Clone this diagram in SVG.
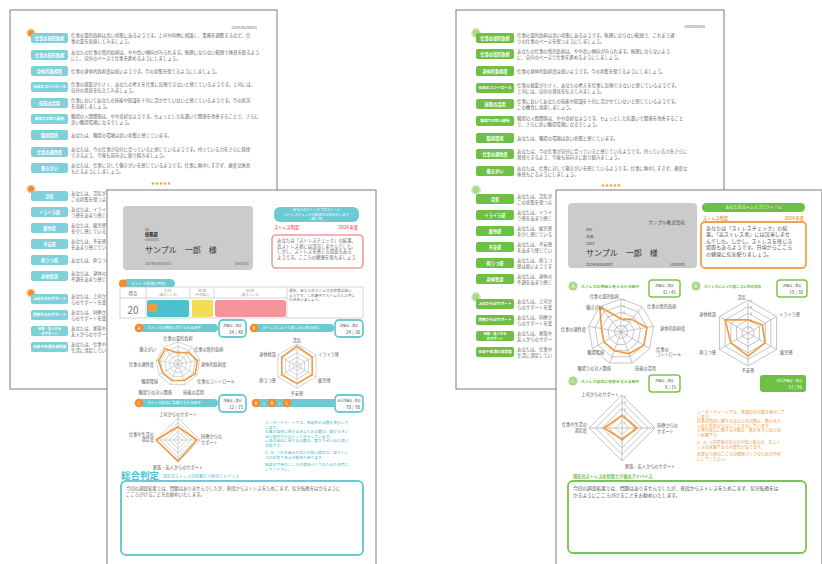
<svg xmlns="http://www.w3.org/2000/svg" width="822" height="564" viewBox="0 0 822 564">
<style>
text{font-family:"Noto Sans CJK JP","Noto Sans",sans-serif}
.pg{fill:#fff;stroke:#7d7d7d;stroke-width:1}
.bt{fill:#7fd0d8}
.bg{fill:#6dbf45}
.bl{font-size:4.2px;fill:#fff;text-anchor:middle;font-weight:bold}
.bs{font-size:3.7px;fill:#fff;text-anchor:middle;font-weight:bold}
.b2{font-size:3.3px;fill:#fff;text-anchor:middle;font-weight:bold}
.tx{font-size:4.4px;fill:#666}
.sm{font-size:3.7px;fill:#666}
.lb{font-size:4.2px;fill:#555}
.mid{text-anchor:middle}
.end{text-anchor:end}
.grid{fill:none;stroke:#b0b0b0}
.dat{fill:none;stroke:#f39a3a;stroke-linejoin:round}
.od{fill:#f58a2a;stroke:#fbbf80;stroke-width:1.5}
.gd{fill:#a9d98b;stroke:#d3ecc2;stroke-width:1.5}
.star{font-size:4px;fill:#f39a3a;text-anchor:middle}
.tl{fill:#6ccad3}
.num{font-size:3.2px;fill:#888}
</style>
<defs>
<g id="g9" class="grid">
<polygon points="0,-1 0.643,-0.766 0.985,-0.174 0.866,0.5 0.342,0.94 -0.342,0.94 -0.866,0.5 -0.985,-0.174 -0.643,-0.766"/>
<polygon points="0,-2 1.286,-1.532 1.97,-0.348 1.732,1 0.684,1.88 -0.684,1.88 -1.732,1 -1.97,-0.348 -1.286,-1.532"/>
<polygon points="0,-3 1.929,-2.298 2.954,-0.521 2.598,1.5 1.026,2.819 -1.026,2.819 -2.598,1.5 -2.954,-0.521 -1.929,-2.298"/>
<polygon points="0,-4 2.571,-3.064 3.939,-0.695 3.464,2 1.368,3.759 -1.368,3.759 -3.464,2 -3.939,-0.695 -2.571,-3.064"/>
<polygon points="0,-5 3.214,-3.83 4.924,-0.868 4.33,2.5 1.71,4.698 -1.71,4.698 -4.33,2.5 -4.924,-0.868 -3.214,-3.83"/>
<path d="M0,0V-5M0,0L3.214,-3.83M0,0L4.924,-0.868M0,0L4.33,2.5M0,0L1.71,4.698M0,0L-1.71,4.698M0,0L-4.33,2.5M0,0L-4.924,-0.868M0,0L-3.214,-3.83"/>
</g>
<g id="g6" class="grid">
<polygon points="0,-1 0.866,-0.5 0.866,0.5 0,1 -0.866,0.5 -0.866,-0.5"/>
<polygon points="0,-2 1.732,-1 1.732,1 0,2 -1.732,1 -1.732,-1"/>
<polygon points="0,-3 2.598,-1.5 2.598,1.5 0,3 -2.598,1.5 -2.598,-1.5"/>
<polygon points="0,-4 3.464,-2 3.464,2 0,4 -3.464,2 -3.464,-2"/>
<polygon points="0,-5 4.33,-2.5 4.33,2.5 0,5 -4.33,2.5 -4.33,-2.5"/>
<path d="M0,-5V5M-4.33,-2.5L4.33,2.5M-4.33,2.5L4.33,-2.5"/>
</g>
<g id="g4" class="grid">
<polygon points="0,-1 1,0 0,1 -1,0"/>
<polygon points="0,-2 2,0 0,2 -2,0"/>
<polygon points="0,-3 3,0 0,3 -3,0"/>
<polygon points="0,-4 4,0 0,4 -4,0"/>
<polygon points="0,-5 5,0 0,5 -5,0"/>
<path d="M0,-5V5M-5,0H5"/>
</g>
</defs>

<!-- Page 1 (back left, teal) -->
<g id="page1">
<rect class="pg" x="10" y="10" width="267" height="379"/>
<text x="257" y="28.5" class="sm end">2024/05/00001</text>
<circle class="od" cx="31" cy="33" r="3.6"/>
<g>
<rect class="bt" x="31" y="33" width="37" height="10" rx="2"/><text class="bl" x="49.5" y="39.5">仕事の量的負担</text>
<text class="tx" x="71" y="37.2">仕事の量的負担は高い状態にあるようです。上司や同僚に相談し、業務を調整するなど、仕</text>
<text class="tx" x="71" y="42.8">事の量を見直してみましょう。</text>
<rect class="bt" x="31" y="50" width="37" height="10" rx="2"/><text class="bl" x="49.5" y="56.5">仕事の質的負担</text>
<text class="tx" x="71" y="54.2">あなたの仕事の質的負担は、やや高い傾向がみられます。無理にならない範囲で休息を取るよう</text>
<text class="tx" x="71" y="59.8">にし、自分のペースで仕事を進めるようにしましょう。</text>
<rect class="bt" x="31" y="66" width="37" height="10" rx="2"/><text class="bl" x="49.5" y="72.5">身体的負担度</text>
<text class="tx" x="71" y="72.6">仕事の身体的負担度は低いようです。今の状態を保てるようにしましょう。</text>
<rect class="bt" x="31" y="82" width="37" height="10" rx="2"/><text class="bs" x="49.5" y="88.3">仕事のコントロール</text>
<text class="tx" x="71" y="86.2">仕事の裁量が小さく、あなたの考えを仕事に反映できないと感じているようです。上司には、</text>
<text class="tx" x="71" y="91.8">自分の意見を伝えてみましょう。</text>
<rect class="bt" x="31" y="98" width="37" height="10" rx="2"/><text class="bl" x="49.5" y="104.5">技能の活用</text>
<text class="tx" x="71" y="102.2">仕事においてあなたの技能や知識を十分に活かせていないと感じているようです。今の状況</text>
<text class="tx" x="71" y="107.8">を見直しましょう。</text>
<rect class="bt" x="31" y="114" width="37" height="10" rx="2"/><text class="bs" x="49.5" y="120.3">職場での対人関係</text>
<text class="tx" x="71" y="118.2">職場の人間関係は、やや良好なようです。ちょっとした気遣いで関係を改善することで、さらに</text>
<text class="tx" x="71" y="123.8">良い職場環境になるでしょう。</text>
<rect class="bt" x="31" y="130" width="37" height="10" rx="2"/><text class="bl" x="49.5" y="136.5">職場環境</text>
<text class="tx" x="71" y="136.6">あなたは、職場の環境は良い状態と感じています。</text>
<rect class="bt" x="31" y="147" width="37" height="10" rx="2"/><text class="bl" x="49.5" y="153.5">仕事の適性度</text>
<text class="tx" x="71" y="151.2">あなたは、今の仕事が自分に合っていると感じているようです。持っている力をさらに発揮</text>
<text class="tx" x="71" y="156.8">できるよう、今後も前向きに取り組みましょう。</text>
<rect class="bt" x="31" y="163" width="37" height="10" rx="2"/><text class="bl" x="49.5" y="169.5">働きがい</text>
<text class="tx" x="71" y="167.2">あなたは、仕事に対して働きがいを感じているようです。仕事に熱中しすぎず、適度な休息</text>
<text class="tx" x="71" y="172.8">もとるようにしましょう。</text>
</g>
<text class="star" x="161" y="185">★★★★★</text>
<circle class="od" cx="31" cy="189" r="3.6"/>
<g>
<rect class="bt" x="31" y="191" width="37" height="10" rx="2"/><text class="bl" x="49.5" y="197.5">活気</text>
<text class="tx" x="71" y="195.2">あなたは、活気が</text>
<text class="tx" x="71" y="200.8">この状態を保つよ</text>
<rect class="bt" x="31" y="207" width="37" height="10" rx="2"/><text class="bl" x="49.5" y="213.5">イライラ感</text>
<text class="tx" x="71" y="211.2">あなたは、イライ</text>
<text class="tx" x="71" y="216.8">ラ感をあまり感じ</text>
<rect class="bt" x="31" y="223" width="37" height="10" rx="2"/><text class="bl" x="49.5" y="229.5">疲労感</text>
<text class="tx" x="71" y="227.2">あなたは、疲労感</text>
<text class="tx" x="71" y="232.8">を少し感じている</text>
<rect class="bt" x="31" y="239" width="37" height="10" rx="2"/><text class="bl" x="49.5" y="245.5">不安感</text>
<text class="tx" x="71" y="243.2">あなたは、不安感</text>
<text class="tx" x="71" y="248.8">をあまり感じてい</text>
<rect class="bt" x="31" y="255" width="37" height="10" rx="2"/><text class="bl" x="49.5" y="261.5">抑うつ感</text>
<text class="tx" x="71" y="261.6">あなたは、抑うつ</text>
<rect class="bt" x="31" y="271" width="37" height="10" rx="2"/><text class="bl" x="49.5" y="277.5">身体愁訴</text>
<text class="tx" x="71" y="275.2">あなたは、身体の</text>
<text class="tx" x="71" y="280.8">不調をあまり感じ</text>
</g>
<circle class="od" cx="31" cy="293" r="3.6"/>
<g>
<rect class="bt" x="31" y="294" width="37" height="10" rx="2"/><text class="bs" x="49.5" y="300.3">上司からのサポート</text>
<text class="tx" x="71" y="298.2">あなたは、上司か</text>
<text class="tx" x="71" y="303.8">らのサポートを受</text>
<rect class="bt" x="31" y="310" width="37" height="10" rx="2"/><text class="bs" x="49.5" y="316.3">同僚からのサポート</text>
<text class="tx" x="71" y="314.2">あなたは、同僚か</text>
<text class="tx" x="71" y="319.8">らのサポートを受</text>
<rect class="bt" x="31" y="326" width="37" height="10" rx="2"/><text class="b2" x="49.5" y="330.2">家族・友人から</text><text class="b2" x="49.5" y="334.6">のサポート</text>
<text class="tx" x="71" y="330.2">あなたは、家族や</text>
<text class="tx" x="71" y="335.8">友人からのサポー</text>
<rect class="bt" x="31" y="342" width="37" height="10" rx="2"/><text class="bs" x="49.5" y="348.3">仕事や生活の満足度</text>
<text class="tx" x="71" y="346.2">あなたは、仕事や</text>
<text class="tx" x="71" y="351.8">生活に満足してい</text>
</g>
</g>

<!-- Page 2 (front left, teal) -->
<g id="page2">
<rect class="pg" x="107" y="190" width="269" height="380"/>
<rect x="123" y="206" width="130" height="64" rx="4" fill="#cbcbcb"/>
<text x="145" y="230.5" class="sm">00</text>
<text x="145" y="236" style="font-size:4.2px;font-weight:bold;fill:#222">総務部</text>
<text x="145" y="241" class="sm">0000001</text>
<text x="145" y="253" style="font-size:8px;fill:#333">サンプル　一郎　様</text>
<text x="145" y="265" class="sm">2024050000001</text>
<text x="249" y="265" class="sm end">(000001)</text>
<rect x="274" y="207" width="85" height="15" rx="6" class="tl"/>
<text x="316.5" y="211.4" class="mid" style="font-size:3.4px;fill:#fff">あなたのストレスプロフィール</text>
<text x="316.5" y="215.6" class="mid" style="font-size:3.4px;fill:#fff">ストレスチェックの結果をお知らせします</text>
<text x="316.5" y="219.8" class="mid" style="font-size:3.4px;fill:#fff">（個人用）</text>
<text x="274" y="229" style="font-size:4.2px;fill:#ef6f6f;font-weight:bold">ストレス判定</text>
<text x="358" y="229" class="end" style="font-size:4.2px;fill:#ef6f6f;font-weight:bold">2024 年度</text>
<rect x="272" y="235" width="91" height="33" rx="4" fill="#fff" stroke="#f29a9a" stroke-width="1.6"/>
<text class="tx" x="277" y="242">あなたは「ストレスチェック」の結果、</text>
<text class="tx" x="277" y="247.6">高ストレス者には該当しませんでした。</text>
<text class="tx" x="277" y="253.2">しかし、ストレスを感じる場面もある</text>
<text class="tx" x="277" y="258.8">ようです。こころの健康を保ちましょう</text>
<rect x="123" y="279" width="52" height="9" rx="4.5" class="tl"/>
<circle cx="123" cy="283.5" r="4" fill="#f58a2a"/>
<text x="131" y="285" style="font-size:3.8px;fill:#fff">ストレス関連の判定</text>
<rect x="120" y="287" width="243" height="31" fill="#fff" stroke="#bdbdbd" stroke-width="0.6"/>
<path d="M120,298H287M146,287V318M190,287V298M214,287V298M287,287V318" stroke="#bdbdbd" stroke-width="0.6" fill="none"/>
<text x="133" y="294.5" class="mid" style="font-size:4.4px;fill:#555">得点</text>
<text x="168" y="291.8" class="mid num">0-XX</text><text x="168" y="296.3" class="mid num">(低ストレス)</text>
<text x="202" y="291.8" class="mid num">XX-XX</text><text x="202" y="296.3" class="mid num">(やや高い)</text>
<text x="250" y="291.8" class="mid num">XX-XX</text><text x="250" y="296.3" class="mid num">(高ストレス)</text>
<text x="289" y="292" class="sm">現在、あなたのストレスの状態は低い</text>
<text x="289" y="296.6" class="sm">ようです。この調子でストレスと上手に</text>
<text x="289" y="301.2" class="sm">付き合いましょう。</text>
<text x="133" y="313.5" class="mid" style="font-size:10px;fill:#777">20</text>
<rect x="147" y="300" width="42" height="17" rx="2" fill="#4cc0d0"/>
<rect x="148" y="304" width="9" height="8" rx="1" fill="#f39a3a"/>
<rect x="192" y="300" width="21" height="17" rx="1" fill="#f1de55"/>
<rect x="215" y="300" width="71" height="17" rx="2.5" fill="#f3959a"/>

<rect x="139" y="324" width="79" height="8" rx="4" class="tl"/>
<circle cx="139" cy="328" r="4.3" fill="#f58a2a"/><text x="139" y="329.6" class="mid" style="font-size:4.2px;fill:#fff">A</text>
<text x="147" y="329.4" style="font-size:3.6px;fill:#fff">ストレスの原因と考えられる因子</text>
<rect x="219" y="320" width="27" height="17" rx="4" fill="#fff" stroke="#6ccad3" stroke-width="1.8"/>
<text x="232.5" y="326.5" class="mid" style="font-size:3.2px;fill:#555">評価点 / 満点</text>
<text x="243" y="333.5" class="end" style="font-size:4.6px;fill:#555">24 / 40</text>
<rect x="254" y="324" width="80" height="8" rx="4" class="tl"/>
<circle cx="254" cy="328" r="4.3" fill="#f58a2a"/><text x="254" y="329.6" class="mid" style="font-size:4.2px;fill:#fff">B</text>
<text x="262" y="329.4" style="font-size:3.6px;fill:#fff">ストレスによって起こる心身の反応</text>
<rect x="335" y="320" width="28" height="17" rx="4" fill="#fff" stroke="#6ccad3" stroke-width="1.8"/>
<text x="349" y="326.5" class="mid" style="font-size:3.2px;fill:#555">評価点 / 満点</text>
<text x="360" y="333.5" class="end" style="font-size:4.6px;fill:#555">24 / 30</text>

<use href="#g9" transform="translate(178,364) scale(4.4)" stroke-width="0.12"/>
<polygon class="dat" transform="translate(178,364) scale(4.4)" stroke-width="0.36" points="0,-2.5 2.25,-2.681 4.432,-0.783 3.897,2.25 1.368,3.759 -1.368,3.759 -3.464,2 -4.432,-0.783 -2.893,-3.447"/>
<text class="lb mid" x="178" y="339.5">仕事の量的負担</text>
<text class="lb" x="194" y="351">仕事の質的負担</text>
<text class="lb" x="201" y="366">身体的負担度</text>
<text class="lb" x="197" y="383">仕事のコントロール</text>
<text class="lb" x="183" y="393.5">技能の活用</text>
<text class="lb end" x="172" y="393.5">職場での対人関係</text>
<text class="lb end" x="158" y="382.5">職場環境</text>
<text class="lb end" x="154" y="366">仕事の適性度</text>
<text class="lb end" x="156" y="351">働きがい</text>

<use href="#g6" transform="translate(297,366) scale(4.4)" stroke-width="0.12"/>
<polygon class="dat" transform="translate(297,366) scale(4.4)" stroke-width="0.36" points="0,-4.5 3.464,-2 3.464,2 0,4 -3.464,2 -3.464,-2"/>
<text class="lb mid" x="297" y="341.5">活気</text>
<text class="lb" x="318" y="356">イライラ感</text>
<text class="lb" x="318" y="382">疲労感</text>
<text class="lb mid" x="297" y="395">不安感</text>
<text class="lb end" x="276" y="382">抑うつ感</text>
<text class="lb end" x="276" y="356">身体愁訴</text>

<rect x="139" y="399" width="79" height="8" rx="4" class="tl"/>
<circle cx="139" cy="403" r="4.3" fill="#f58a2a"/><text x="139" y="404.6" class="mid" style="font-size:4.2px;fill:#fff">C</text>
<text x="147" y="404.4" style="font-size:3.6px;fill:#fff">ストレス反応に影響を与える因子</text>
<rect x="219" y="395" width="27" height="17" rx="4" fill="#fff" stroke="#6ccad3" stroke-width="1.8"/>
<text x="232.5" y="401.5" class="mid" style="font-size:3.2px;fill:#555">評価点 / 満点</text>
<text x="243" y="408.5" class="end" style="font-size:4.6px;fill:#555">12 / 15</text>
<rect x="256" y="399" width="81" height="8" rx="4" class="tl"/>
<circle cx="256" cy="403" r="4.3" fill="#f58a2a"/><text x="256" y="404.6" class="mid" style="font-size:4.2px;fill:#fff">A</text>
<text x="264" y="404.6" class="mid" style="font-size:4px;fill:#fff">+</text>
<circle cx="272" cy="403" r="4.3" fill="#f58a2a"/><text x="272" y="404.6" class="mid" style="font-size:4.2px;fill:#fff">B</text>
<text x="279.5" y="404.6" class="mid" style="font-size:4px;fill:#fff">+</text>
<circle cx="287" cy="403" r="4.3" fill="#f58a2a"/><text x="287" y="404.6" class="mid" style="font-size:4.2px;fill:#fff">C</text>
<rect x="335" y="395" width="28" height="17" rx="4" fill="#fff" stroke="#6ccad3" stroke-width="1.8"/>
<text x="349" y="401.5" class="mid" style="font-size:3px;fill:#555">合計評価点 / 満点</text>
<text x="360" y="408.5" class="end" style="font-size:4.6px;fill:#555">70 / 90</text>

<use href="#g4" transform="translate(178,440) scale(4.4)" stroke-width="0.12"/>
<polygon class="dat" transform="translate(178,440) scale(4.4)" stroke-width="0.36" points="0,-3 4.3,0 0,4.8 -5,0"/>
<text class="lb mid" x="178" y="416">上司からのサポート</text>
<text class="lb" x="201" y="438">同僚からの</text>
<text class="lb" x="201" y="443.6">サポート</text>
<text class="lb end" x="154" y="435.5">仕事や生活の</text>
<text class="lb end" x="154" y="441.1">満足度</text>
<text class="lb mid" x="178" y="468.5">家族・友人からのサポート</text>

<g style="font-size:3.8px;fill:#3fb8c6">
<text x="265" y="424">レーダーチャートでは、各項目の点数を表示して</text>
<text x="265" y="428.6">います。</text>
<text x="265" y="433.2">仕事の負担に関するあなたの点数は、数が大きい</text>
<text x="265" y="437.8">ほど負担が少ないことを示しています。</text>
<text x="265" y="442.4">心身の反応に関する点数は、数が大きいほど良い</text>
<text x="265" y="447">状態です。</text>
<text x="265" y="454">A、B、Cの評価点の合計が低い場合は、高ストレ</text>
<text x="265" y="458.6">スの状態である可能性があります。</text>
<text x="265" y="466">結果は今後のこころの健康づくりのための参考に</text>
<text x="265" y="470.6">してください。</text>
</g>
<text x="121" y="479" style="font-size:9.5px;font-weight:bold;fill:#4cbfcc">総合判定</text>
<text x="163" y="478" style="font-size:4px;fill:#4cbfcc">現在のストレスの状態と今後のアドバイス</text>
<rect x="121" y="481" width="242" height="74" rx="5" fill="#fff" stroke="#6ccad3" stroke-width="2"/>
<text class="tx" x="126" y="489.5">今回の調査結果では、問題はありませんでしたが、普段からストレスをためこまず、気分転換をはかるように</text>
<text class="tx" x="126" y="495.5">こころがけることをお勧めいたします。</text>
</g>

<!-- Page 3 (back right, green) -->
<g id="page3">
<rect class="pg" x="456" y="10" width="268" height="379"/>
<text x="705" y="28" class="sm end">0000000000</text>
<circle class="gd" cx="476" cy="33" r="4.2"/>
<g>
<rect class="bg" x="476" y="33" width="38" height="10" rx="2"/><text class="bl" x="495" y="39.5">仕事の量的負担</text>
<text class="tx" x="517" y="37.2">仕事の量的負担は高い状態にあるようです。無理にならない範囲で、これまで通</text>
<text class="tx" x="517" y="42.8">りの仕事のペースを保つようにしましょう。</text>
<rect class="bg" x="476" y="49" width="38" height="10" rx="2"/><text class="bl" x="495" y="55.5">仕事の質的負担</text>
<text class="tx" x="517" y="53.2">あなたの仕事の質的負担は、やや高い傾向がみられます。無理にならないよう</text>
<text class="tx" x="517" y="58.8">に、自分のペースで仕事を進めるようにしましょう。</text>
<rect class="bg" x="476" y="66" width="38" height="10" rx="2"/><text class="bl" x="495" y="72.5">身体的負担度</text>
<text class="tx" x="517" y="72.6">仕事の身体的負担度は低いようです。今の状態を保てるようにしましょう。</text>
<rect class="bg" x="476" y="83" width="38" height="10" rx="2"/><text class="bs" x="495" y="89.3">仕事のコントロール</text>
<text class="tx" x="517" y="87.2">仕事の裁量が小さく、あなたの考えを仕事に反映できないと感じているようです。</text>
<text class="tx" x="517" y="92.8">上司には、自分の意見を伝えてみましょう。</text>
<rect class="bg" x="476" y="99" width="38" height="10" rx="2"/><text class="bl" x="495" y="105.5">技能の活用</text>
<text class="tx" x="517" y="103.2">仕事においてあなたの技能や知識を十分に活かせていないと感じているようです。</text>
<text class="tx" x="517" y="108.8">この機会に見直しましょう。</text>
<rect class="bg" x="476" y="116" width="38" height="10" rx="2"/><text class="bs" x="495" y="122.3">職場での対人関係</text>
<text class="tx" x="517" y="120.2">職場の人間関係は、やや良好なようです。ちょっとした気遣いで関係を改善すること</text>
<text class="tx" x="517" y="125.8">で、さらに良い職場環境になるでしょう。</text>
<rect class="bg" x="476" y="133" width="38" height="10" rx="2"/><text class="bl" x="495" y="139.5">職場環境</text>
<text class="tx" x="517" y="139.6">あなたは、職場の環境は良い状態と感じています。</text>
<rect class="bg" x="476" y="149" width="38" height="10" rx="2"/><text class="bl" x="495" y="155.5">仕事の適性度</text>
<text class="tx" x="517" y="153.2">あなたは、今の仕事が自分に合っていると感じているようです。持っている力をさらに</text>
<text class="tx" x="517" y="158.8">発揮できるよう、今後も前向きに取り組みましょう。</text>
<rect class="bg" x="476" y="166" width="38" height="10" rx="2"/><text class="bl" x="495" y="172.5">働きがい</text>
<text class="tx" x="517" y="170.2">あなたは、仕事に対して働きがいを感じているようです。仕事に熱中しすぎず、適度な</text>
<text class="tx" x="517" y="175.8">休息もとるようにしましょう。</text>
</g>
<text class="star" x="611" y="187">★★★★★</text>
<circle class="gd" cx="476" cy="190" r="4.2"/>
<g>
<rect class="bg" x="476" y="194" width="38" height="10" rx="2"/><text class="bl" x="495" y="200.5">活気</text>
<text class="tx" x="517" y="198.2">あなたは、活気が</text>
<text class="tx" x="517" y="203.8">この状態を保つよ</text>
<rect class="bg" x="476" y="210" width="38" height="10" rx="2"/><text class="bl" x="495" y="216.5">イライラ感</text>
<text class="tx" x="517" y="214.2">あなたは、イライ</text>
<text class="tx" x="517" y="219.8">ラ感をあまり感じ</text>
<rect class="bg" x="476" y="226" width="38" height="10" rx="2"/><text class="bl" x="495" y="232.5">疲労感</text>
<text class="tx" x="517" y="230.2">あなたは、疲労感</text>
<text class="tx" x="517" y="235.8">を少し感じている</text>
<rect class="bg" x="476" y="242" width="38" height="10" rx="2"/><text class="bl" x="495" y="248.5">不安感</text>
<text class="tx" x="517" y="246.2">あなたは、不安感</text>
<text class="tx" x="517" y="251.8">をあまり感じてい</text>
<rect class="bg" x="476" y="258" width="38" height="10" rx="2"/><text class="bl" x="495" y="264.5">抑うつ感</text>
<text class="tx" x="517" y="262.2">あなたは、抑うつ</text>
<text class="tx" x="517" y="267.8">感は低いようです</text>
<rect class="bg" x="476" y="274" width="38" height="10" rx="2"/><text class="bl" x="495" y="280.5">身体愁訴</text>
<text class="tx" x="517" y="278.2">あなたは、身体の</text>
<text class="tx" x="517" y="283.8">不調をあまり感じ</text>
</g>
<circle class="gd" cx="476" cy="297" r="4.2"/>
<g>
<rect class="bg" x="476" y="299" width="38" height="10" rx="2"/><text class="bs" x="495" y="305.3">上司からのサポート</text>
<text class="tx" x="517" y="303.2">あなたは、上司か</text>
<text class="tx" x="517" y="308.8">らのサポートを受</text>
<rect class="bg" x="476" y="315" width="38" height="10" rx="2"/><text class="bs" x="495" y="321.3">同僚からのサポート</text>
<text class="tx" x="517" y="319.2">あなたは、同僚か</text>
<text class="tx" x="517" y="324.8">らのサポートを受</text>
<rect class="bg" x="476" y="331" width="38" height="10" rx="2"/><text class="b2" x="495" y="335.2">家族・友人から</text><text class="b2" x="495" y="339.6">のサポート</text>
<text class="tx" x="517" y="335.2">あなたは、家族や</text>
<text class="tx" x="517" y="340.8">友人からのサポー</text>
<rect class="bg" x="476" y="347" width="38" height="10" rx="2"/><text class="bs" x="495" y="353.3">仕事や生活の満足度</text>
<text class="tx" x="517" y="351.2">あなたは、仕事や</text>
<text class="tx" x="517" y="356.8">生活に満足してい</text>
</g>
</g>

<!-- Page 4 (front right, green) -->
<g id="page4">
<rect class="pg" x="556" y="190" width="266" height="380"/>
<rect x="568" y="203" width="129" height="65" rx="4" fill="#cbcbcb"/>
<text x="685" y="223.5" class="end" style="font-size:4.6px;fill:#444">サンプル株式会社</text>
<text x="586" y="231" class="sm" style="fill:#444">000</text>
<text x="586" y="237.5" class="sm" style="fill:#444">本部</text>
<text x="586" y="244.5" class="sm" style="fill:#444">1003</text>
<text x="586" y="256" style="font-size:8px;fill:#333">サンプル　一郎　様</text>
<text x="586" y="265.5" class="sm" style="fill:#444">2024050500003</text>
<text x="685" y="265.5" class="sm end" style="fill:#444">(000003)</text>
<rect x="702" y="203" width="103" height="9" rx="4.5" fill="#6dbf45"/>
<text x="753.5" y="209" class="mid" style="font-size:4px;fill:#fff">あなたのストレスプロフィール</text>
<text x="703" y="219.5" style="font-size:4.2px;fill:#f39a3a;font-weight:bold">ストレス判定</text>
<text x="804" y="219.5" class="end" style="font-size:4.2px;fill:#f39a3a;font-weight:bold">2024 年度</text>
<rect x="701" y="222" width="105" height="46" rx="4" fill="#fff" stroke="#f5a04a" stroke-width="1.8"/>
<g style="font-size:5.1px;fill:#555">
<text x="706" y="230">あなたは「ストレスチェック」の結</text>
<text x="706" y="236.4">果、「高ストレス者」には該当しませ</text>
<text x="706" y="242.8">んでした。しかし、ストレスを感じる</text>
<text x="706" y="249.2">場面もあるようです。日頃からこころ</text>
<text x="706" y="255.6">の健康に気を配りましょう。</text>
</g>

<circle cx="573" cy="286" r="4.5" fill="#a9d98b"/><text x="573" y="287.7" class="mid" style="font-size:4.2px;fill:#fff">A</text>
<text x="581" y="287.5" style="font-size:3.9px;fill:#6dbf45;font-weight:bold">ストレスの原因と考えられる因子</text>
<rect x="649" y="280" width="31" height="17" rx="3" fill="#fff" stroke="#7cc452" stroke-width="1.5"/>
<text x="664.5" y="286.5" class="mid" style="font-size:3.2px;fill:#555">評価点 / 満点</text>
<text x="676" y="293.5" class="end" style="font-size:4.4px;fill:#555">32 / 45</text>
<circle cx="696" cy="286" r="4.5" fill="#a9d98b"/><text x="696" y="287.7" class="mid" style="font-size:4.2px;fill:#fff">B</text>
<text x="704" y="287.5" style="font-size:3.6px;fill:#6dbf45;font-weight:bold">ストレスによって起こる心身の反応</text>
<rect x="777" y="280" width="30" height="17" rx="3" fill="#fff" stroke="#7cc452" stroke-width="1.5"/>
<text x="792" y="286.5" class="mid" style="font-size:3.2px;fill:#555">評価点 / 満点</text>
<text x="803" y="293.5" class="end" style="font-size:4.4px;fill:#555">18 / 30</text>

<use href="#g9" transform="translate(621,332) scale(6.6)" stroke-width="0.11"/>
<polygon class="dat" transform="translate(621,332) scale(6.6)" stroke-width="0.25" points="0,-2 1.607,-1.915 3.939,-0.695 3.464,2 1.197,3.289 -1.026,2.819 -2.598,1.5 -2.954,-0.521 -3.214,-3.83"/>
<g class="num"><text x="623" y="301">5</text><text x="623" y="307.6">4</text><text x="623" y="314.2">3</text><text x="623" y="320.8">2</text><text x="623" y="327.4">1</text></g>
<text class="lb end" x="619" y="298">仕事の量的負担</text>
<text class="lb" x="647" y="308">仕事の質的負担</text>
<text class="lb" x="660" y="329.5">身体的負担度</text>
<text class="lb" x="656" y="350.5">仕事の</text>
<text class="lb" x="656" y="356.3">コントロール</text>
<text class="lb" x="635" y="370">技能の活用</text>
<text class="lb end" x="611" y="370">職場での対人関係</text>
<text class="lb end" x="604" y="354">職場環境</text>
<text class="lb end" x="586" y="330.5">仕事の適性度</text>
<text class="lb end" x="603" y="309">働きがい</text>

<use href="#g6" transform="translate(748,333) scale(6.6)" stroke-width="0.11"/>
<polygon class="dat" transform="translate(748,333) scale(6.6)" stroke-width="0.25" points="0,-2 2.165,-1.25 2.598,1.5 0,3.5 -2.598,1.5 -3.464,-2"/>
<g class="num"><text x="750" y="302">5</text><text x="750" y="308.6">4</text><text x="750" y="315.2">3</text><text x="750" y="321.8">2</text><text x="750" y="328.4">1</text></g>
<text class="lb end" x="746" y="299">活気</text>
<text class="lb" x="779" y="316">イライラ感</text>
<text class="lb" x="780" y="354">疲労感</text>
<text class="lb mid" x="748" y="372">不安感</text>
<text class="lb end" x="716" y="354">抑うつ感</text>
<text class="lb end" x="716" y="316">身体愁訴</text>

<circle cx="573" cy="381" r="4.5" fill="#a9d98b"/><text x="573" y="382.7" class="mid" style="font-size:4.2px;fill:#fff">C</text>
<text x="581" y="382.5" style="font-size:3.9px;fill:#6dbf45;font-weight:bold">ストレス反応に影響を与える因子</text>
<rect x="649" y="375" width="31" height="17" rx="3" fill="#fff" stroke="#7cc452" stroke-width="1.5"/>
<text x="664.5" y="381.5" class="mid" style="font-size:3.2px;fill:#555">評価点 / 満点</text>
<text x="676" y="388.5" class="end" style="font-size:4.4px;fill:#555">8 / 15</text>
<rect x="760" y="375" width="46" height="17" rx="3" fill="#6dbf45"/>
<text x="802" y="381.5" class="end" style="font-size:3.3px;fill:#fff">合計評価点 / 満点</text>
<text x="802" y="388.5" class="end" style="font-size:4.4px;fill:#fff">57 / 90</text>

<use href="#g4" transform="translate(622,428) scale(6.6)" stroke-width="0.11"/>
<polygon class="dat" transform="translate(622,428) scale(6.6)" stroke-width="0.25" points="0,-1.9 2.3,0 0,1.7 -2.7,0"/>
<g class="num"><text x="624" y="397.5">5</text><text x="624" y="404.1">4</text><text x="624" y="410.7">3</text><text x="624" y="417.3">2</text><text x="624" y="423.9">1</text></g>
<text class="lb end" x="619" y="396">上司からのサポート</text>
<text class="lb" x="657" y="427">同僚からの</text>
<text class="lb" x="657" y="432.8">サポート</text>
<text class="lb end" x="587" y="426">仕事や生活の</text>
<text class="lb end" x="587" y="431.8">満足度</text>
<text class="lb" x="625" y="467.5">家族・友人からのサポート</text>

<g style="font-size:4px;fill:#f39a3a">
<text x="697" y="414">レーダーチャートでは、各項目の点数を表示して</text>
<text x="697" y="418.6">います。</text>
<text x="697" y="423.2">仕事の負担に関するあなたの点数は、数が大き</text>
<text x="697" y="427.8">いほど負担が少ないことを示しています。</text>
<text x="697" y="432.4">心身の反応に関する点数は、数が大きいほど良</text>
<text x="697" y="437">い状態です。</text>
<text x="697" y="444">A、B、Cの評価点の合計が低い場合は、高スト</text>
<text x="697" y="448.6">レスの状態である可能性があります。</text>
<text x="697" y="456">結果は今後のこころの健康づくりのための参考</text>
<text x="697" y="460.6">にしてください。</text>
</g>
<text x="573" y="478" style="font-size:4.2px;fill:#6dbf45;font-weight:bold">現在のストレスの状態と今後のアドバイス</text>
<rect x="568" y="481" width="238" height="72" rx="5" fill="#fff" stroke="#7cc452" stroke-width="1.8"/>
<text x="573" y="490" style="font-size:4.7px;fill:#555">今回の調査結果では、問題はありませんでしたが、普段からストレスをためこまず、気分転換をは</text>
<text x="573" y="497" style="font-size:4.7px;fill:#555">かるようにこころがけることをお勧めいたします。</text>
</g>
</svg>
